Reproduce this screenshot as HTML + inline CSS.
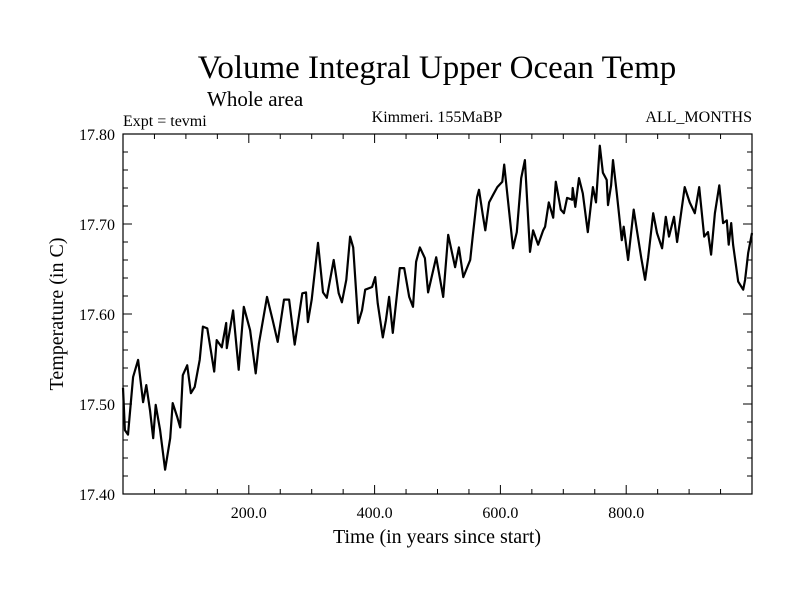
<!DOCTYPE html>
<html><head><meta charset="utf-8"><style>
body{margin:0;background:#fff}
svg{display:block;font-family:"Liberation Serif",serif}
</style></head><body>
<svg id="chart" width="800" height="600">
<rect width="800" height="600" fill="#fff"/>
<text x="437" y="78" font-size="33" text-anchor="middle">Volume Integral Upper Ocean Temp</text>
<text x="207" y="106" font-size="21">Whole area</text>
<text x="123" y="126" font-size="16">Expt = tevmi</text>
<text x="437" y="122" font-size="16" text-anchor="middle">Kimmeri. 155MaBP</text>
<text x="752" y="122" font-size="16" text-anchor="end">ALL_MONTHS</text>
<text x="437" y="543" font-size="20" text-anchor="middle">Time (in years since start)</text>
<text transform="translate(63,314) rotate(-90)" font-size="20" text-anchor="middle">Temperature (in C)</text>
<g id="ticks"></g>
<g id="series"></g>
<rect x="123" y="134" width="629" height="360" fill="none" stroke="#000" stroke-width="1.2"/>
</svg>
<script>
const years=[0,3,8,16,24,32,37,43,48,52,59,67,75,79,86,91,95,102,108,114,122,127,134,145,149,157,164,165,175,184,192,202,211,216,229,238,246,256,264,273,285,291,294,300,310,318,324,335,343,348,355,361,366,374,380,385,396,401,405,413,418,423,429,440,447,455,461,466,472,480,485,498,509,517,528,534,541,552,556,563,566,572,576,582,588,595,603,606,612,620,626,633,639,647,652,660,668,671,677,684,688,696,701,706,714,715,719,725,731,739,747,752,758,763,769,771,776,779,785,793,796,803,812,817,824,830,835,843,849,857,863,868,876,881,889,893,901,909,916,924,930,935,941,948,954,960,963,967,970,978,986,989,994,1000];
const temps=[17.518,17.471,17.466,17.530,17.549,17.502,17.521,17.493,17.462,17.499,17.471,17.427,17.462,17.501,17.486,17.474,17.532,17.543,17.512,17.519,17.549,17.586,17.584,17.536,17.571,17.563,17.590,17.562,17.604,17.538,17.608,17.582,17.534,17.567,17.619,17.593,17.569,17.616,17.616,17.566,17.623,17.624,17.591,17.616,17.679,17.624,17.618,17.660,17.623,17.613,17.638,17.686,17.674,17.590,17.604,17.627,17.630,17.641,17.612,17.574,17.593,17.619,17.579,17.651,17.651,17.619,17.608,17.658,17.674,17.662,17.624,17.663,17.619,17.688,17.652,17.674,17.641,17.660,17.686,17.730,17.738,17.710,17.693,17.724,17.732,17.741,17.747,17.766,17.727,17.673,17.691,17.751,17.771,17.669,17.693,17.677,17.693,17.697,17.724,17.707,17.747,17.716,17.712,17.729,17.727,17.740,17.719,17.751,17.734,17.691,17.741,17.724,17.787,17.757,17.749,17.721,17.743,17.771,17.734,17.682,17.697,17.660,17.716,17.693,17.662,17.638,17.663,17.712,17.690,17.673,17.708,17.686,17.708,17.680,17.721,17.741,17.724,17.712,17.741,17.686,17.691,17.666,17.712,17.743,17.701,17.704,17.677,17.701,17.677,17.636,17.627,17.638,17.668,17.690];
const xTickValues=[200,400,600,800];
const xTickLabels=["200.0","400.0","600.0","800.0"];
const yTickValues=[17.4,17.5,17.6,17.7,17.8];
const yTickLabels=["17.40","17.50","17.60","17.70","17.80"];
const X0=123,X1=752,Y0=494,Y1=134;
function xs(v){return X0+(v-0)/1000*(X1-X0);}
function ys(v){return Y0-(v-17.4)/0.4*(Y0-Y1);}
const NS="http://www.w3.org/2000/svg";
const tg=document.getElementById('ticks');
function line(x1,y1,x2,y2,name){const l=document.createElementNS(NS,'line');l.setAttribute('x1',x1);l.setAttribute('y1',y1);l.setAttribute('x2',x2);l.setAttribute('y2',y2);l.setAttribute('stroke','#000');l.setAttribute('stroke-width','1');


tg.appendChild(l);}
for(let v=50;v<1000;v+=50){const x=xs(v);const len=(v%200===0)?9:5;line(x,Y0,x,Y0-len,'x-tick');line(x,Y1,x,Y1+len,'x-tick-top');}
for(let i=1;i<20;i++){const v=17.4+i*0.02;const y=ys(v);const len=(i%5===0)?9:5;line(X0,y,X0+len,y,'y-tick');line(X1,y,X1-len,y,'y-tick-right');}
xTickValues.forEach((v,i)=>{const t=document.createElementNS(NS,'text');t.setAttribute('x',xs(v));t.setAttribute('y',518);t.setAttribute('font-size','16');t.setAttribute('text-anchor','middle');t.textContent=xTickLabels[i];


tg.appendChild(t);});
yTickValues.forEach((v,i)=>{const t=document.createElementNS(NS,'text');t.setAttribute('x',115);t.setAttribute('y',ys(v)+6);t.setAttribute('font-size','16');t.setAttribute('text-anchor','end');t.textContent=yTickLabels[i];


tg.appendChild(t);});
const p=document.createElementNS(NS,'path');
p.setAttribute('d',years.map((yr,i)=>(i?'L':'M')+xs(yr).toFixed(1)+','+ys(temps[i]).toFixed(1)).join(''));
p.setAttribute('fill','none');p.setAttribute('stroke','#000');p.setAttribute('stroke-width','2.2');p.setAttribute('stroke-linejoin','round');


document.getElementById('series').appendChild(p);
</script>
</body></html>
